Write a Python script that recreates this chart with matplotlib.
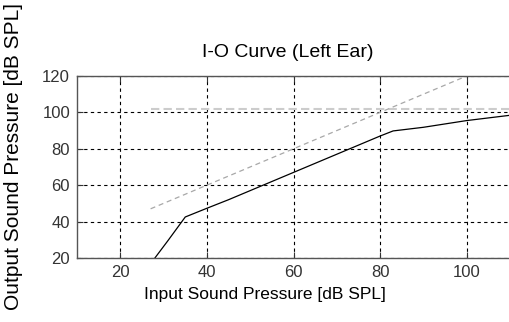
import matplotlib
matplotlib.use("Agg")
import matplotlib.pyplot as plt

plt.rcParams['font.family'] = ['Liberation Sans', 'DejaVu Sans']

# I-O curve (black solid)
io_x = [28, 31, 35, 40, 45, 50, 55, 60, 65, 70, 75, 80, 83, 90, 100, 110]
io_y = [20, 29.5, 42.5, 47.3, 52, 57, 62, 67, 72, 77, 82, 87, 89.8, 91.8, 95.5, 98.4]

# reference diagonal (gray dashed)
ref_x = [27, 100]
ref_y = [47, 120]

# upper limit (light gray dashed)
lim_x = [27, 110]
lim_y = [102, 102]

xticks = [20, 40, 60, 80, 100]
yticks = [20, 40, 60, 80, 100, 120]

fig = plt.figure(figsize=(5.10, 3.22), dpi=100)
ax = fig.add_axes([0.151, 0.199, 0.849, 0.565])

ax.plot(lim_x, lim_y, color='#cccccc', lw=1.5, ls=(0, (4, 2)))
ax.plot(ref_x, ref_y, color='#a8a8a8', lw=0.9, ls=(0, (4, 3)))
ax.plot(io_x, io_y, color='black', lw=0.9)

ax.set_xlim(10, 110)
ax.set_ylim(20, 120)
ax.set_xticks(xticks)
ax.set_yticks(yticks)
ax.grid(True, color='black', ls=(0, (3, 3)), lw=0.8)
ax.tick_params(direction='in', length=4, width=0.8, labelsize=12, colors='#333333',
               top=True, right=False, pad=5)
for s in ['left', 'top', 'bottom']:
    ax.spines[s].set_color('#555555')
    ax.spines[s].set_linewidth(1.0)
ax.spines['right'].set_visible(False)

ax.set_title('I-O Curve (Left Ear)', fontsize=14, pad=14, x=0.486)
ax.set_xlabel('Input Sound Pressure [dB SPL]', fontsize=12.5)
ax.xaxis.set_label_coords(0.434, -0.16)
ax.set_ylabel('Output Sound Pressure [dB SPL]', fontsize=15)
ax.yaxis.set_label_coords(-0.125, 0.56)

fig.savefig('out.png', dpi=100)
